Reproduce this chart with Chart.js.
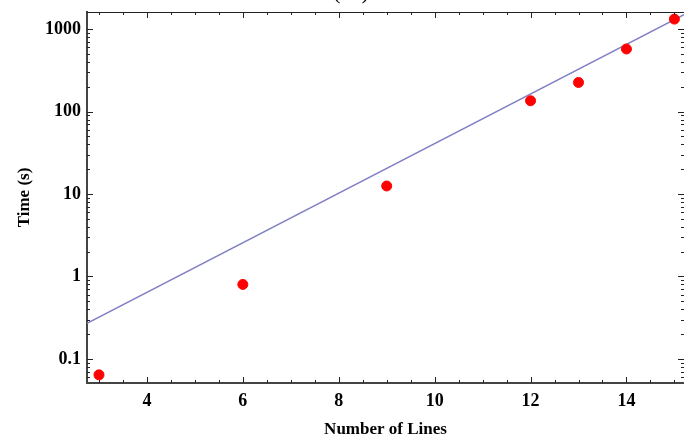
<!DOCTYPE html>
<html>
<head>
<meta charset="utf-8">
<script src="https://cdn.jsdelivr.net/npm/chart.js@4/dist/chart.umd.min.js"></script>
<style>
  html, body { margin: 0; padding: 0; overflow: hidden; background: #fff; }
  #wrap { width: 690px; height: 440px; }
</style>
</head>
<body>
<div id="wrap"><canvas id="chartCanvas"></canvas></div>
<script>
/* Measured run times */
var lines = [3, 6, 9, 12, 13, 14, 15];
var times = [0.064, 0.80, 12.5, 135, 225, 573, 1320];

/* Fitted exponential line, end points */
var fitX = [2.75, 15.2];
var fitY = [0.27, 1490];

/* Tick labels */
var xTicks = [4, 6, 8, 10, 12, 14];
var yTicks = [0.1, 1, 10, 100, 1000];

var serif = "'Liberation Serif', 'DejaVu Serif', serif";

/* Inward tick marks on every side of the frame, Mathematica style */
var frameTicks = {
    id: 'frameTicks',
    afterDraw: function(chart) {
        var ctx = chart.ctx;
        var a = chart.chartArea;
        var x = chart.scales.x;
        var y = chart.scales.y;
        ctx.save();
        ctx.strokeStyle = '#222';
        ctx.lineWidth = 1;
        ctx.beginPath();
        ctx.moveTo(a.left, a.top + 0.5);
        ctx.lineTo(a.right, a.top + 0.5);
        ctx.stroke();

        ctx.beginPath();
        for (var v = 3; v <= x.max; v += 0.5) {
            var px = Math.round(x.getPixelForValue(v)) + 0.5;
            var len = xTicks.indexOf(v) >= 0 ? 6 : 3;
            ctx.moveTo(px, a.bottom);
            ctx.lineTo(px, a.bottom - len);
            ctx.moveTo(px, a.top);
            ctx.lineTo(px, a.top + len);
        }
        for (var d = -2; d <= 3; d++) {
            for (var k = 1; k <= 9; k++) {
                var val = k * Math.pow(10, d);
                if (val < y.min || val > y.max) continue;
                var py = Math.round(y.getPixelForValue(val)) + 0.5;
                var l = k === 1 ? 6 : 3;
                ctx.moveTo(a.left, py);
                ctx.lineTo(a.left + l, py);
                ctx.moveTo(a.right, py);
                ctx.lineTo(a.right - l, py);
            }
        }
        ctx.stroke();

        /* panel label, mostly cut off at the top edge */
        ctx.fillStyle = '#000';
        ctx.font = '22px ' + serif;
        ctx.textAlign = 'center';
        ctx.textBaseline = 'alphabetic';
        ctx.fillText('( a )', 351, -1);
        ctx.restore();
    }
};

var ctx = document.getElementById('chartCanvas').getContext('2d');
var chart = new Chart(ctx, {
    type: 'scatter',
    data: {
        datasets: [{
            label: 'fit',
            data: fitX.map(function(v, i) { return {x: v, y: fitY[i]}; }),
            showLine: true,
            borderColor: 'rgb(128, 128, 196)',
            borderWidth: 1.5,
            pointRadius: 0,
            order: 2
        }, {
            label: 'time',
            data: lines.map(function(v, i) { return {x: v, y: times[i]}; }),
            backgroundColor: '#ff0000',
            borderColor: '#ff0000',
            pointRadius: 5,
            order: 1
        }]
    },
    options: {
        responsive: true,
        maintainAspectRatio: false,
        animation: false,
        layout: { padding: { top: 12, right: 5, left: 0, bottom: 0 } },
        plugins: {
            legend: { display: false },
            tooltip: { enabled: false }
        },
        scales: {
            x: {
                type: 'linear',
                min: 2.75,
                max: 15.2,
                afterBuildTicks: function(scale) {
                    scale.ticks = xTicks.map(function(v) { return {value: v}; });
                },
                afterFit: function(scale) {
                    scale.height = 57;
                    scale.paddingLeft = 0;
                    scale.paddingRight = 0;
                },
                grid: { display: false, drawTicks: false },
                border: { display: true, color: '#444', width: 2 },
                ticks: {
                    color: '#000',
                    padding: 8,
                    maxRotation: 0,
                    font: { family: serif, size: 18, weight: 'bold' }
                },
                title: {
                    display: true,
                    text: 'Number of Lines',
                    color: '#000',
                    padding: { top: 4, bottom: 0 },
                    font: { family: serif, size: 17, weight: 'bold' }
                }
            },
            y: {
                type: 'logarithmic',
                min: 0.051,
                max: 1610,
                afterBuildTicks: function(scale) {
                    scale.ticks = yTicks.map(function(v) { return {value: v}; });
                },
                afterFit: function(scale) {
                    scale.width = 87;
                    scale.paddingTop = 0;
                    scale.paddingBottom = 0;
                },
                grid: { display: false, drawTicks: false },
                border: { display: true, color: '#444', width: 2 },
                ticks: {
                    color: '#000',
                    padding: 6,
                    font: { family: serif, size: 18, weight: 'bold' },
                    callback: function(v) { return String(v); }
                },
                title: {
                    display: true,
                    text: 'Time (s)',
                    color: '#000',
                    padding: { top: 14, bottom: 0 },
                    font: { family: serif, size: 17, weight: 'bold' }
                }
            }
        }
    },
    plugins: [frameTicks]
});
</script>
</body>
</html>
